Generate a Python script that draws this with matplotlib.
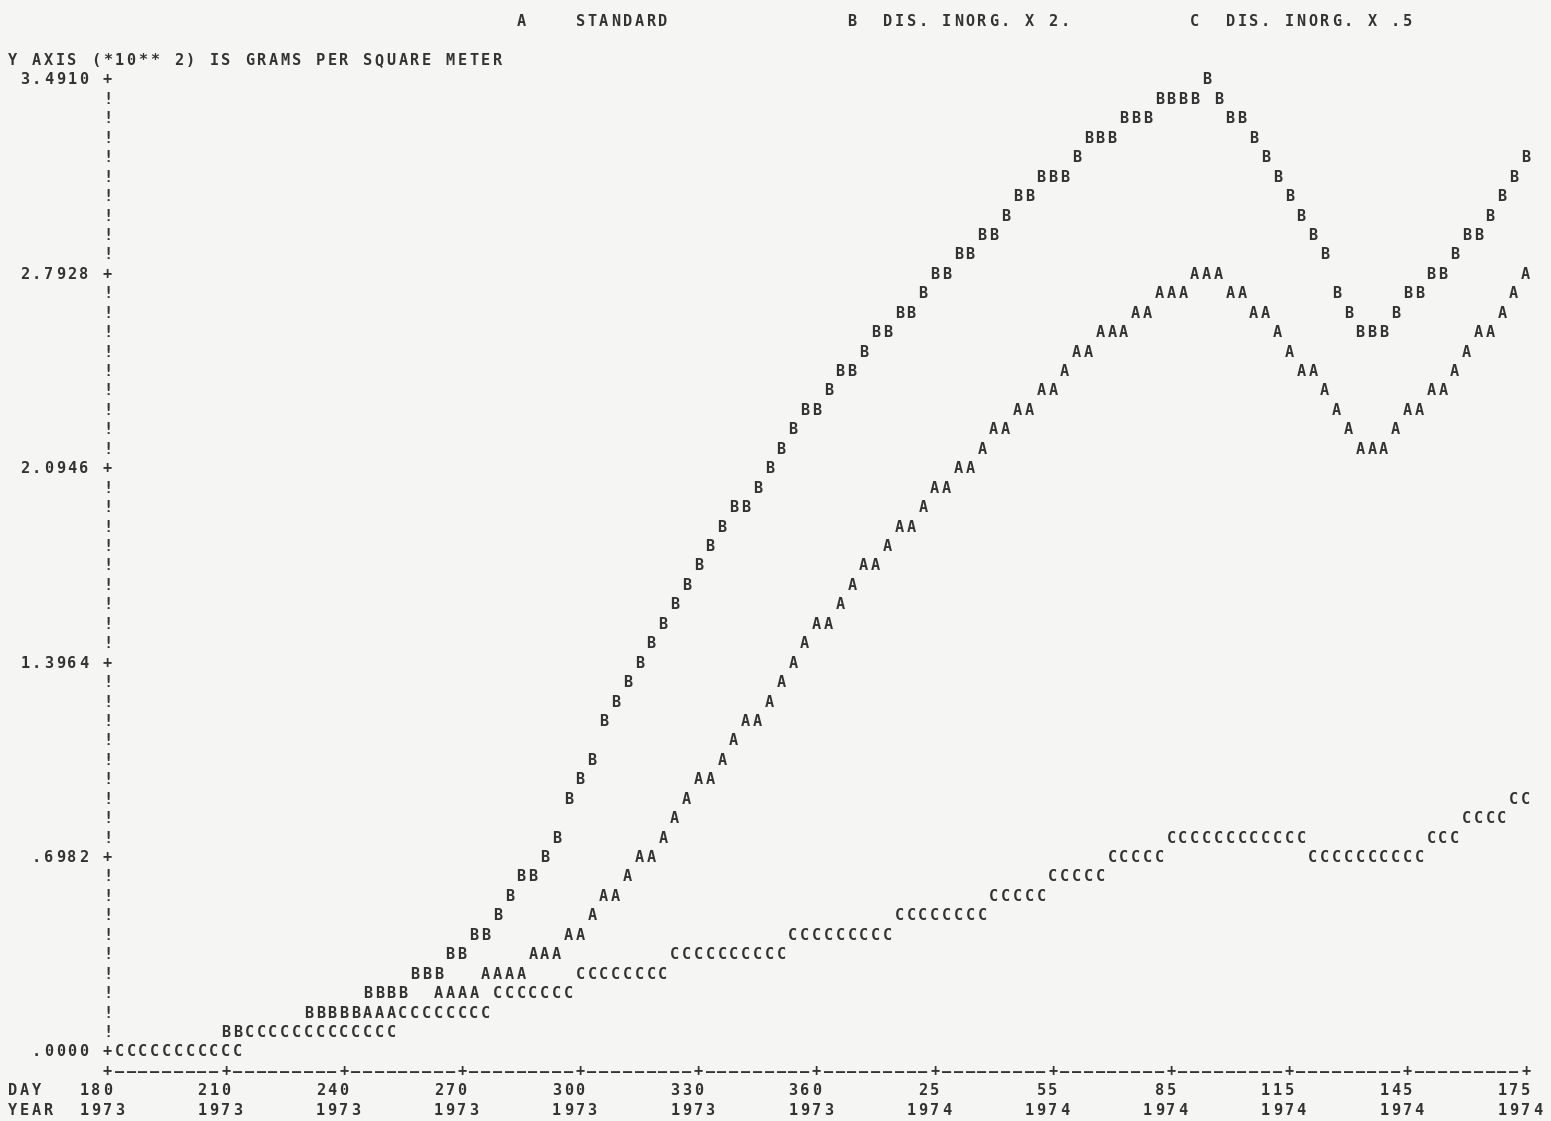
import numpy as np
import matplotlib.pyplot as plt

# line printer plot: one column = 3 days, one line = .06982 (x 10**2 g/m2)
STEP = 0.06982
DAYS_PER_COL = 3

days = np.arange(3, 361, 3)   # days after day 180, 1973

# A  STANDARD
a_vals = [
    0.00, 0.00, 0.00, 0.00, 0.00, 0.00, 0.00, 0.00, 0.00, 0.00,
    0.00, 0.07, 0.07, 0.07, 0.07, 0.07, 0.07, 0.07, 0.07, 0.14,
    0.14, 0.14, 0.14, 0.14, 0.14, 0.14, 0.14, 0.21, 0.21, 0.21,
    0.21, 0.28, 0.28, 0.28, 0.28, 0.35, 0.35, 0.35, 0.42, 0.42,
    0.49, 0.56, 0.56, 0.63, 0.70, 0.70, 0.77, 0.84, 0.91, 0.98,
    0.98, 1.05, 1.12, 1.19, 1.19, 1.26, 1.33, 1.40, 1.47, 1.54,
    1.54, 1.61, 1.68, 1.75, 1.75, 1.82, 1.89, 1.89, 1.95, 2.02,
    2.02, 2.09, 2.09, 2.16, 2.23, 2.23, 2.30, 2.30, 2.37, 2.37,
    2.44, 2.51, 2.51, 2.58, 2.58, 2.58, 2.65, 2.65, 2.72, 2.72,
    2.72, 2.79, 2.79, 2.79, 2.72, 2.72, 2.65, 2.65, 2.58, 2.51,
    2.44, 2.44, 2.37, 2.30, 2.23, 2.16, 2.16, 2.16, 2.23, 2.30,
    2.30, 2.37, 2.37, 2.44, 2.51, 2.58, 2.58, 2.65, 2.72, 2.79,
]

# B  DIS. INORG. X 2.
b_vals = [
    0.00, 0.00, 0.00, 0.00, 0.00, 0.00, 0.00, 0.00, 0.00, 0.07,
    0.07, 0.07, 0.07, 0.07, 0.07, 0.07, 0.14, 0.14, 0.14, 0.14,
    0.14, 0.21, 0.21, 0.21, 0.21, 0.28, 0.28, 0.28, 0.35, 0.35,
    0.42, 0.42, 0.49, 0.56, 0.63, 0.63, 0.70, 0.77, 0.91, 0.98,
    1.05, 1.19, 1.26, 1.33, 1.40, 1.47, 1.54, 1.61, 1.68, 1.75,
    1.82, 1.89, 1.95, 1.95, 2.02, 2.09, 2.16, 2.23, 2.30, 2.30,
    2.37, 2.44, 2.44, 2.51, 2.58, 2.58, 2.65, 2.65, 2.72, 2.79,
    2.79, 2.86, 2.86, 2.93, 2.93, 3.00, 3.07, 3.07, 3.14, 3.14,
    3.14, 3.21, 3.28, 3.28, 3.28, 3.35, 3.35, 3.35, 3.42, 3.42,
    3.42, 3.42, 3.49, 3.42, 3.35, 3.35, 3.28, 3.21, 3.14, 3.07,
    3.00, 2.93, 2.86, 2.72, 2.65, 2.58, 2.58, 2.58, 2.65, 2.72,
    2.72, 2.79, 2.79, 2.86, 2.93, 2.93, 3.00, 3.07, 3.14, 3.21,
]

# C  DIS. INORG. X .5
c_vals = [
    0.00, 0.00, 0.00, 0.00, 0.00, 0.00, 0.00, 0.00, 0.00, 0.00,
    0.00, 0.07, 0.07, 0.07, 0.07, 0.07, 0.07, 0.07, 0.07, 0.07,
    0.07, 0.07, 0.07, 0.07, 0.14, 0.14, 0.14, 0.14, 0.14, 0.14,
    0.14, 0.14, 0.21, 0.21, 0.21, 0.21, 0.21, 0.21, 0.21, 0.28,
    0.28, 0.28, 0.28, 0.28, 0.28, 0.28, 0.28, 0.35, 0.35, 0.35,
    0.35, 0.35, 0.35, 0.35, 0.35, 0.35, 0.35, 0.42, 0.42, 0.42,
    0.42, 0.42, 0.42, 0.42, 0.42, 0.42, 0.49, 0.49, 0.49, 0.49,
    0.49, 0.49, 0.49, 0.49, 0.56, 0.56, 0.56, 0.56, 0.56, 0.63,
    0.63, 0.63, 0.63, 0.63, 0.70, 0.70, 0.70, 0.70, 0.70, 0.77,
    0.77, 0.77, 0.77, 0.77, 0.77, 0.77, 0.77, 0.77, 0.77, 0.77,
    0.77, 0.70, 0.70, 0.70, 0.70, 0.70, 0.70, 0.70, 0.70, 0.70,
    0.70, 0.77, 0.77, 0.77, 0.84, 0.84, 0.84, 0.84, 0.91, 0.91,
]

y_ticks = [0.0, 0.6982, 1.3964, 2.0946, 2.7928, 3.4910]
y_labels = [".0000", ".6982", "1.3964", "2.0946", "2.7928", "3.4910"]

x_ticks = [0, 30, 60, 90, 120, 150, 180, 210, 240, 270, 300, 330, 360]
day_labels = ["180", "210", "240", "270", "300", "330", "360",
              "25", "55", "85", "115", "145", "175"]
year_labels = ["1973", "1973", "1973", "1973", "1973", "1973", "1973",
               "1974", "1974", "1974", "1974", "1974", "1974"]

legend = [("A", "STANDARD"), ("B", "DIS. INORG. X 2."), ("C", "DIS. INORG. X .5")]
y_title = "Y AXIS (*10** 2) IS GRAMS PER SQUARE METER"

INK = "#333333"
PAPER = "#f5f5f3"

fig = plt.figure(figsize=(15.51, 11.21), dpi=100, facecolor=PAPER)
ax = fig.add_axes([0.0693, 0.0616, 0.9143, 0.8671])
ax.set_xlim(0, 360)
ax.set_ylim(0, 50 * STEP)
ax.axis("off")

style = dict(family="DejaVu Sans Mono", fontsize=11, fontweight="bold",
             color=INK, ha="center", va="center", clip_on=False)


def put(col, row, s):
    # print a string one character per printer column
    for i, ch in enumerate(s):
        if ch != " ":
            ax.text((col + i) * DAYS_PER_COL, row * STEP, ch, **style)


# later series overprint earlier ones, like the printer did
cells = {}
for letter, vals in (("A", a_vals), ("B", b_vals), ("C", c_vals)):
    for d, v in zip(days, vals):
        cells[(int(round(d / DAYS_PER_COL)), int(round(v / STEP)))] = letter
for (col, row), letter in cells.items():
    ax.text(col * DAYS_PER_COL, row * STEP, letter, **style)

# vertical axis
for row in range(0, 51):
    put(0, row, "+" if row % 10 == 0 else "!")
for v, lab in zip(y_ticks, y_labels):
    row = int(round(v / STEP))
    put(-1 - len(lab), row, lab)

# horizontal axis
for col in range(0, 121):
    put(col, -1, "+" if col % 10 == 0 else "\u2013")
put(-8, -2, "DAY")
put(-8, -3, "YEAR")
for x, d, y in zip(x_ticks, day_labels, year_labels):
    col = x // DAYS_PER_COL
    put(col - len(d) + 1, -2, d)
    put(col - len(y) + 2, -3, y)

# header lines
put(-8, 51, y_title)
put(35, 53, legend[0][0] + "    " + legend[0][1])
put(63, 53, legend[1][0] + "  " + legend[1][1])
put(92, 53, legend[2][0] + "  " + legend[2][1])

fig.savefig("out.png", dpi=100, facecolor=PAPER)
